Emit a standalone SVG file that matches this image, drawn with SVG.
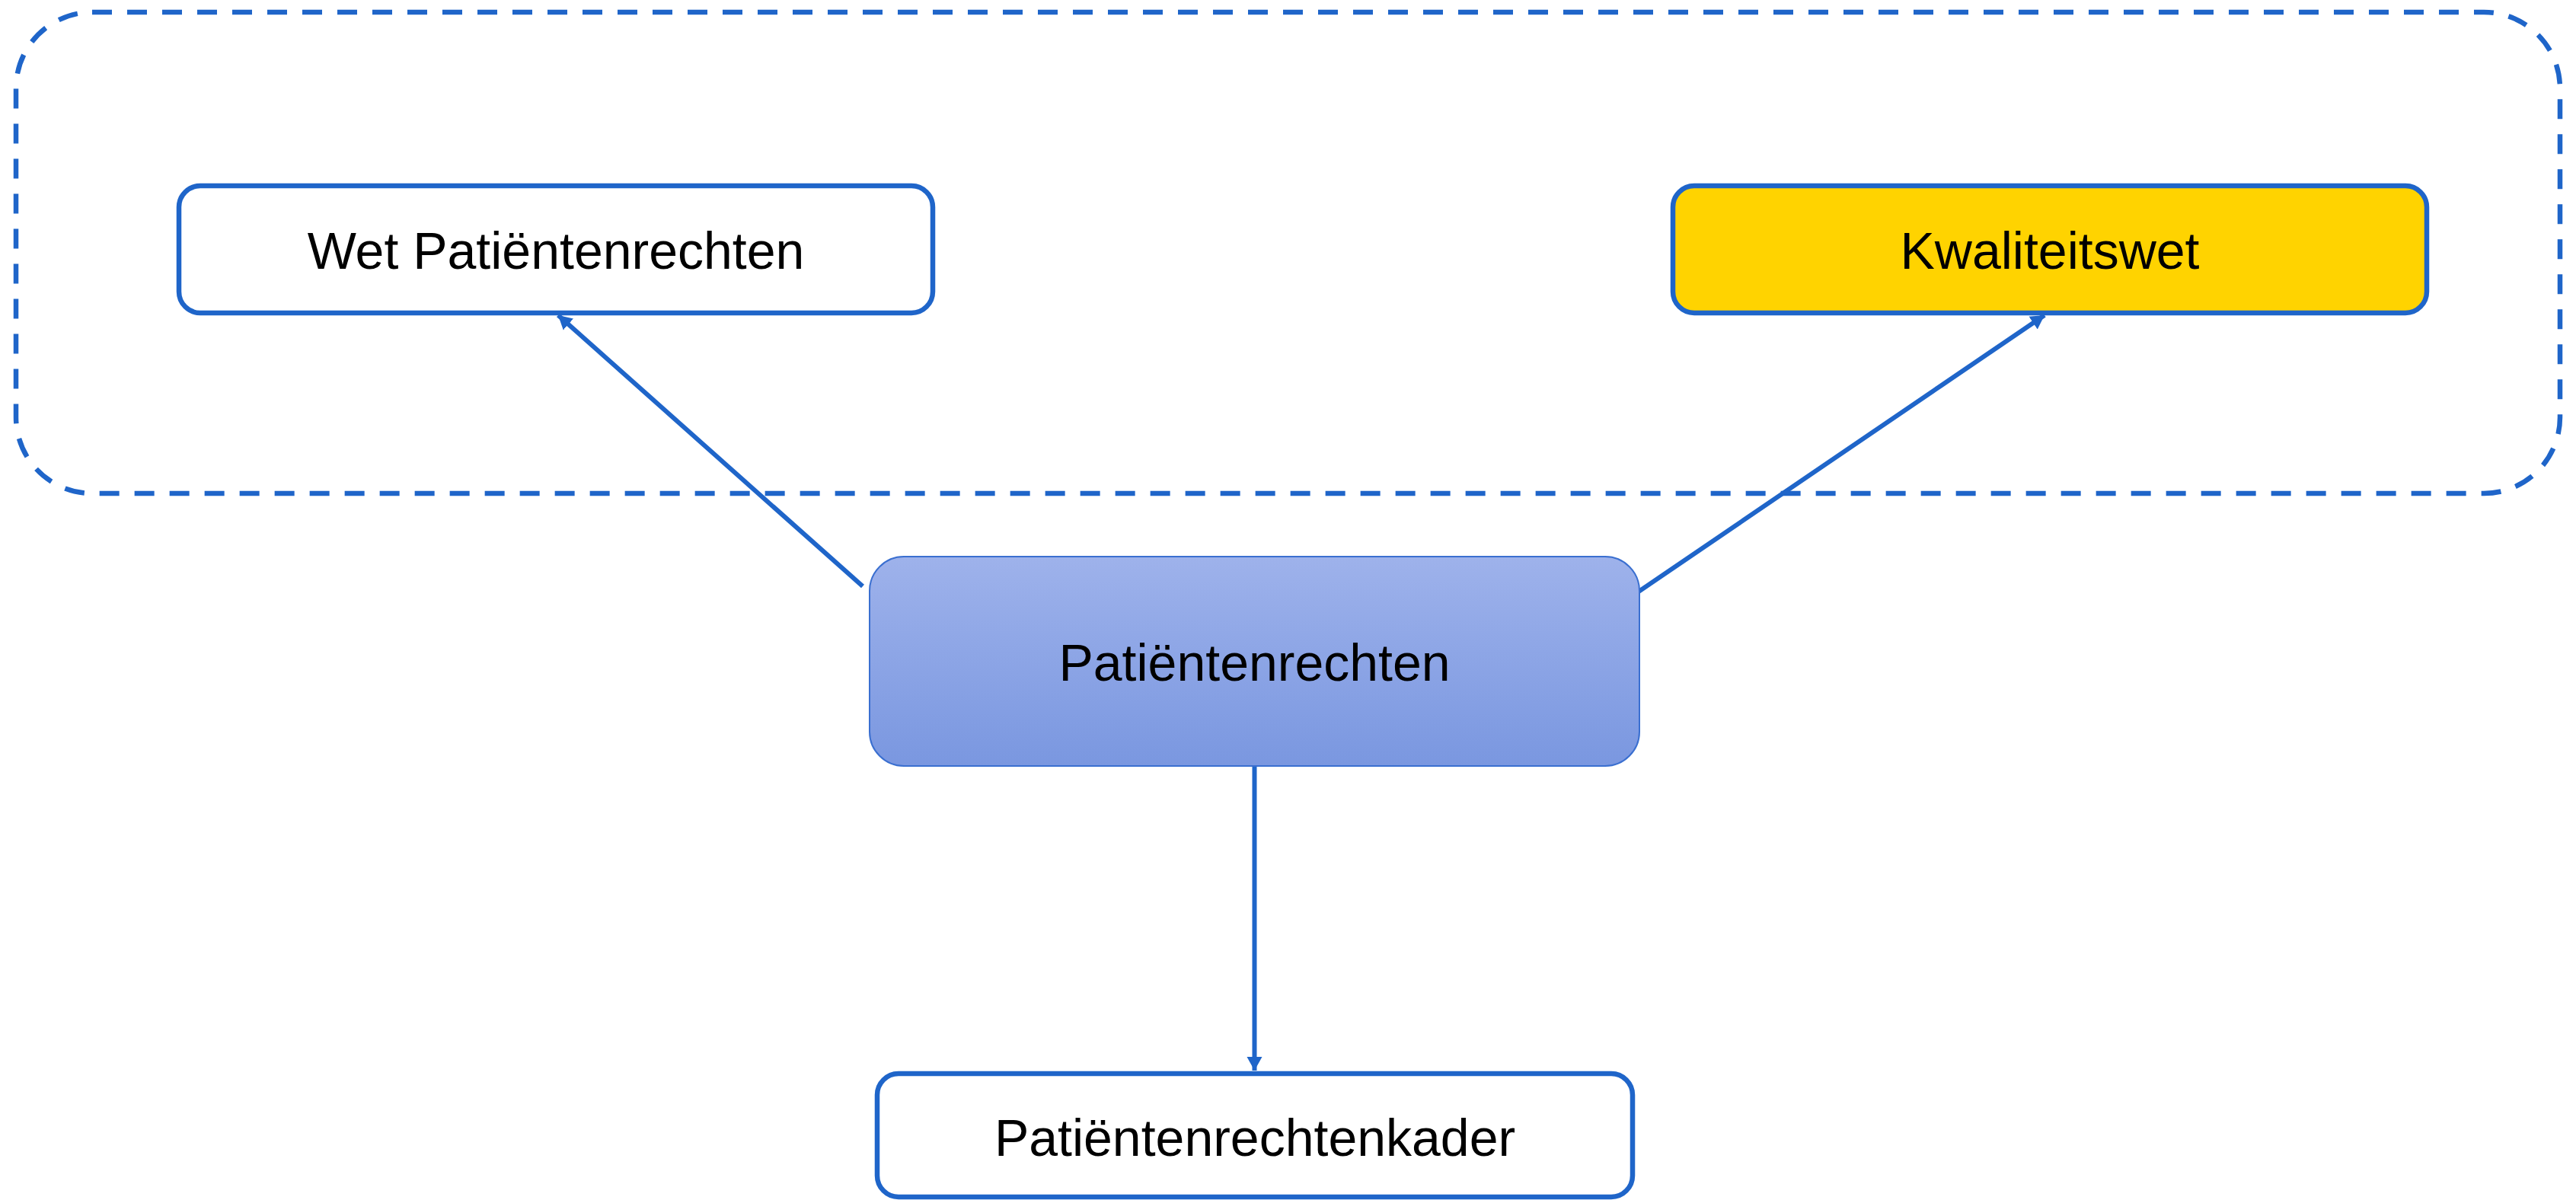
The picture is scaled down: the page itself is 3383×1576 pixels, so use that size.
<svg xmlns="http://www.w3.org/2000/svg" width="3383" height="1576" viewBox="0 0 3383 1576">
  <style>
    .box { fill: #FFFFFF; stroke: #1F65C9; stroke-width: 6.5; }
    .lbl { font-family: "Liberation Sans", Arial, sans-serif; font-size: 68px; fill: #000000; text-anchor: middle; }
    .conn { fill: none; stroke: #1F65C9; stroke-width: 6; }
  </style>
  <defs>
    <linearGradient id="g1" x1="0" y1="0" x2="0" y2="1">
      <stop offset="0" stop-color="#9EB2EB"/>
      <stop offset="1" stop-color="#7A97E0"/>
    </linearGradient>
    <marker id="arr" markerUnits="userSpaceOnUse" markerWidth="20" markerHeight="22" refX="18" refY="10" orient="auto" viewBox="0 0 20 20">
      <path d="M0,0 L18,10 L0,20 Z" fill="#1F65C9"/>
    </marker>
  </defs>
  <rect width="3383" height="1576" fill="#FFFFFF"/>
  <g id="group">
    <rect x="21" y="16" width="3341" height="632" rx="100" ry="100" fill="none" stroke="#1F65C9" stroke-width="6.5" stroke-dasharray="26 20"/>
  </g>
  <g id="connectors">
    <line class="conn" x1="1133" y1="770" x2="733" y2="414" marker-end="url(#arr)"/>
    <line class="conn" x1="2146" y1="781" x2="2685" y2="414" marker-end="url(#arr)"/>
    <line class="conn" x1="1647.5" y1="1006" x2="1647.5" y2="1406" marker-end="url(#arr)"/>
  </g>
  <g id="wet">
    <rect class="box" x="235" y="244" width="990" height="167" rx="28" ry="28"/>
    <text class="lbl" x="730" y="353">Wet Patiëntenrechten</text>
  </g>
  <g id="kwaliteitswet">
    <rect class="box" x="2197" y="244" width="990" height="167" rx="28" ry="28" style="fill:#FFD300"/>
    <text class="lbl" x="2692" y="353">Kwaliteitswet</text>
  </g>
  <g id="patientenrechten">
    <rect x="1142" y="731" width="1011" height="275" rx="45" ry="45" fill="url(#g1)" stroke="#3A6FD0" stroke-width="2"/>
    <text class="lbl" x="1647.5" y="894">Patiëntenrechten</text>
  </g>
  <g id="kader">
    <rect class="box" x="1152" y="1410" width="992" height="162" rx="28" ry="28"/>
    <text class="lbl" x="1648" y="1518">Patiëntenrechtenkader</text>
  </g>
</svg>
